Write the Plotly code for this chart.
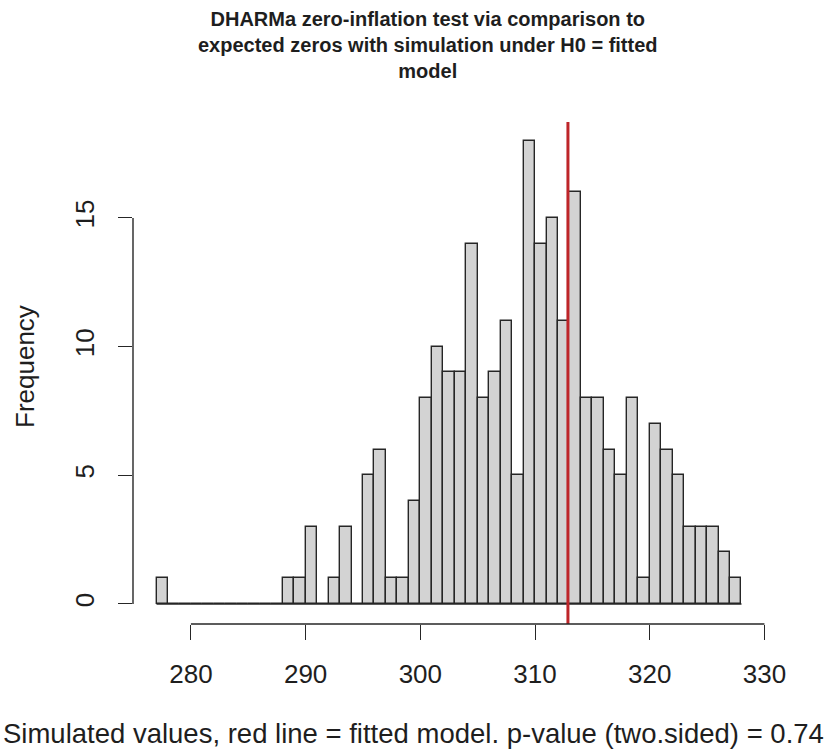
import plotly.graph_objects as go

# ---- data ----
bin_left = list(range(277, 328))          # bin edges: left edges, width 1
counts = [1,
          0, 0, 0, 0, 0, 0, 0, 0, 0, 0,
          1, 1, 3, 0, 1, 3, 0, 5, 6, 1, 1, 4,
          8, 10, 9, 9, 14, 8, 9, 11, 5, 18,
          14, 15, 11, 16, 8, 8, 6, 5, 8, 1,
          7, 6, 5, 3, 3, 3, 2, 1]
bin_width = 1
observed = 312.87
x_ticks = [280, 290, 300, 310, 320, 330]
y_ticks = [0, 5, 10, 15]

title_text = ("DHARMa zero-inflation test via comparison to<br>"
              "expected zeros with simulation under H0 = fitted<br>model")
xlab = "Simulated values, red line = fitted model. p-value (two.sided) = 0.74"
ylab = "Frequency"

# ---- figure geometry ----
W, H = 829, 754
ML, MR, MT, MB = 133, 64, 122, 130
PW, PH = W - ML - MR, H - MT - MB

def px(xp):
    return (xp - ML) / PW

def py(yp):
    return (H - MB - yp) / PH

FONT = "Liberation Sans, Arial, sans-serif"
TXT = "#1e1e1e"
AX = "#262626"

centers = [b + bin_width / 2 for b in bin_left]
edges_all = bin_left + [bin_left[-1] + bin_width]

fig = go.Figure()
# baseline made by the zero-height bins
fig.add_trace(go.Scatter(x=[edges_all[0], edges_all[-1]], y=[0, 0], mode="lines",
                         line=dict(color=AX, width=1.4), hoverinfo="skip",
                         showlegend=False))
fig.add_trace(go.Bar(x=centers, y=counts, width=bin_width,
                     marker=dict(color="#D3D3D3", line=dict(color=AX, width=1.4)),
                     showlegend=False))

fig.add_shape(type="line", xref="x", yref="paper", x0=observed, x1=observed,
              y0=0, y1=1, line=dict(color="#BE2529", width=3))
# R-style axis lines from first to last tick
fig.add_shape(type="line", xref="x", yref="paper", x0=x_ticks[0], x1=x_ticks[-1],
              y0=0, y1=0, line=dict(color=AX, width=1.4))
fig.add_shape(type="line", xref="paper", yref="y", x0=0, x1=0,
              y0=y_ticks[0], y1=y_ticks[-1], line=dict(color=AX, width=1.4))

fig.update_layout(
    width=W, height=H,
    margin=dict(l=ML, r=MR, t=MT, b=MB, pad=0),
    paper_bgcolor="white", plot_bgcolor="white",
    bargap=0,
    font=dict(family=FONT, color=TXT),
    xaxis=dict(range=[274.95, 330.05], tickvals=x_ticks, ticks="outside",
               ticklen=15, tickwidth=1.4, tickcolor=AX, showgrid=False,
               zeroline=False, showline=False,
               tickfont=dict(size=26, color=TXT, family=FONT),
               ticklabelstandoff=12),
    yaxis=dict(range=[-0.78, 18.73], tickvals=y_ticks, ticks="outside",
               ticklen=14, tickwidth=1.4, tickcolor=AX, showgrid=False,
               zeroline=False, showline=False, tickangle=-90,
               tickfont=dict(size=26, color=TXT, family=FONT),
               ticklabelstandoff=14),
    annotations=[
        dict(text="<b>" + title_text.replace("<br>", "</b><br><b>") + "</b>",
             xref="paper", yref="paper", x=px(428), y=py(6),
             xanchor="center", yanchor="top", showarrow=False, align="center",
             font=dict(size=20, color=TXT, family=FONT)),
        dict(text=xlab, xref="paper", yref="paper", x=px(413), y=py(733),
             xanchor="center", yanchor="middle", showarrow=False,
             font=dict(size=27.5, color=TXT, family=FONT)),
        dict(text=ylab, xref="paper", yref="paper", x=px(25), y=py(367),
             xanchor="center", yanchor="middle", showarrow=False, textangle=-90,
             font=dict(size=26, color=TXT, family=FONT)),
    ],
)

fig.write_html("out.html")
